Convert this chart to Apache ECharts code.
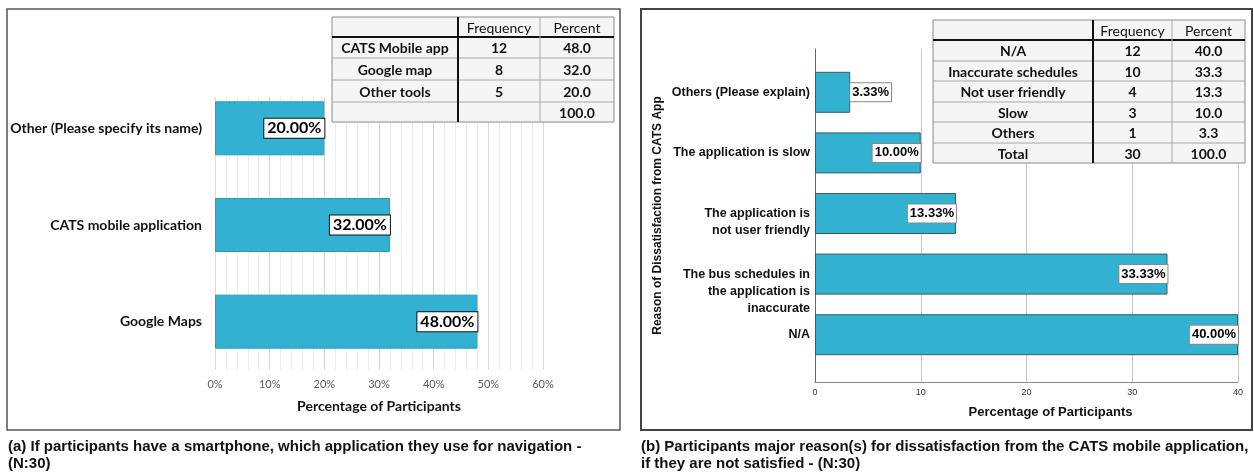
<!DOCTYPE html>
<html><head><meta charset="utf-8">
<script src="https://cdn.jsdelivr.net/npm/echarts@6/dist/echarts.min.js"></script>
<style>html,body{margin:0;padding:0;background:#fff}#c{width:1254px;height:475px}</style>
</head><body><div id="c"></div>
<script>
// ---- Data ----
const leftCategories = ['Other (Please specify its name)', 'CATS mobile application', 'Google Maps'];
const leftValues = [20, 32, 48];
const leftTableHeader = ['', 'Frequency', 'Percent'];
const leftTableRows = [
  ['CATS Mobile app', '12', '48.0'],
  ['Google map', '8', '32.0'],
  ['Other tools', '5', '20.0'],
  ['', '', '100.0']
];
const rightCategories = ['Others (Please explain)', 'The application is slow', 'The application is\nnot user friendly', 'The bus schedules in\nthe application is\ninaccurate', 'N/A'];
const rightValues = [3.33, 10, 13.33, 33.33, 40];
const rightTableHeader = ['', 'Frequency', 'Percent'];
const rightTableRows = [
  ['N/A', '12', '40.0'],
  ['Inaccurate schedules', '10', '33.3'],
  ['Not user friendly', '4', '13.3'],
  ['Slow', '3', '10.0'],
  ['Others', '1', '3.3'],
  ['Total', '30', '100.0']
];
const captionA = ['(a) If participants have a smartphone, which application they use for navigation -', '(N:30)'];
const captionB = ['(b) Participants major reason(s) for dissatisfaction from the CATS mobile application,', 'if they are not satisfied - (N:30)'];
const xTitle = 'Percentage of Participants';
const yTitleRight = 'Reason of Dissatisfaction from CATS App';

// ---- Layout helpers ----
function tableGraphics(header, rows, cols, rowsY) {
  const els = [];
  const x0 = cols[0], x1 = cols[cols.length - 1], y0 = rowsY[0], y1 = rowsY[rowsY.length - 1];
  els.push({type: 'rect', z: 100, shape: {x: x0, y: y0, width: x1 - x0, height: y1 - y0}, style: {fill: '#f5f5f5', stroke: '#8a8a8a', lineWidth: 1}});
  for (let r = 1; r < rowsY.length - 1; r++) {
    els.push({type: 'line', z: 101, shape: {x1: x0, y1: rowsY[r], x2: x1, y2: rowsY[r]}, style: {stroke: r === 1 ? '#111' : '#a8a8a8', lineWidth: r === 1 ? 2 : 1}});
  }
  for (let c = 1; c < cols.length - 1; c++) {
    els.push({type: 'line', z: 101, shape: {x1: cols[c], y1: y0, x2: cols[c], y2: y1}, style: {stroke: c === 1 ? '#111' : '#a8a8a8', lineWidth: c === 1 ? 2 : 1}});
  }
  [header].concat(rows).forEach((row, r) => row.forEach((t, c) => {
    if (!t) return;
    els.push({type: 'text', z: 102, style: {text: t, x: (cols[c] + cols[c + 1]) / 2, y: (rowsY[r] + rowsY[r + 1]) / 2 + 1,
      align: 'center', verticalAlign: 'middle', fontSize: 14, fontFamily: 'Lato', fontWeight: r === 0 ? 'normal' : 'bold', fill: '#111'}});
  }));
  return els;
}
function captionGraphics(lines, x) {
  return lines.map((t, i) => ({type: 'text', z: 102, style: {text: t, x: x, y: 447 + i * 17, align: 'left', verticalAlign: 'middle',
    fontSize: 15, fontFamily: 'Liberation Sans', fontWeight: 'bold', fill: '#111'}}));
}

const chart = echarts.init(document.getElementById('c'));
const pct = p => p.value.toFixed(2) + '%';

const option = {
  backgroundColor: '#fff',
  animation: false,
  grid: [
    {left: 215, right: 711, top: 80, height: 290, outerBoundsMode: 'none', containLabel: false},
    {left: 215, right: 711, top: 97, height: 273, outerBoundsMode: 'none', containLabel: false},
    {left: 815, right: 16, top: 62, height: 303, outerBoundsMode: 'none', containLabel: false},
    {left: 815, right: 16, top: 49, height: 333, outerBoundsMode: 'none', containLabel: false}
  ],
  xAxis: [
    {gridIndex: 0, type: 'value', min: 0, max: 60, show: false},
    {gridIndex: 1, type: 'value', min: 0, max: 60, interval: 10,
      axisLine: {show: false}, axisTick: {show: false},
      axisLabel: {formatter: '{value}%', fontSize: 11, fontFamily: 'Lato', color: '#595959', margin: 9},
      splitLine: {show: true, lineStyle: {color: '#d9d9d9'}},
      minorTick: {show: false, splitNumber: 5},
      minorSplitLine: {show: true, lineStyle: {color: '#ececec'}},
      name: xTitle, nameLocation: 'middle', nameGap: 29,
      nameTextStyle: {fontSize: 14, fontFamily: 'Lato', fontWeight: 'bold', color: '#111'}},
    {gridIndex: 2, type: 'value', min: 0, max: 40, show: false},
    {gridIndex: 3, type: 'value', min: 0, max: 40, interval: 10,
      axisLine: {show: true, lineStyle: {color: '#888', width: 1}}, axisTick: {show: false},
      axisLabel: {fontSize: 9, fontFamily: 'Liberation Sans', color: '#333', margin: 6},
      splitLine: {show: true, lineStyle: {color: '#c8c8c8'}},
      name: xTitle, nameLocation: 'middle', nameGap: 24,
      nameTextStyle: {fontSize: 13, fontFamily: 'Liberation Sans', fontWeight: 'bold', color: '#111', padding: [0, 0, 0, 48]}}
  ],
  yAxis: [
    {gridIndex: 0, type: 'category', data: leftCategories, inverse: true,
      axisLine: {show: false}, axisTick: {show: false},
      axisLabel: {fontSize: 14, fontFamily: 'Lato', fontWeight: 'bold', color: '#111', margin: 13}},
    {gridIndex: 1, type: 'value', show: false},
    {gridIndex: 2, type: 'category', data: rightCategories, inverse: true,
      axisLine: {show: false}, axisTick: {show: false},
      axisLabel: {fontSize: 12.5, fontFamily: 'Liberation Sans', fontWeight: 'bold', color: '#111', margin: 5, lineHeight: 17,
        formatter: v => '\n'.repeat(v.split('\n').length - 1) + v}},
    {gridIndex: 3, type: 'value', min: 0, max: 1,
      axisLine: {show: true, lineStyle: {color: '#666', width: 1}}, axisTick: {show: false},
      axisLabel: {show: false}, splitLine: {show: false},
      name: yTitleRight, nameLocation: 'middle', nameGap: 151,
      nameTextStyle: {fontSize: 12, fontFamily: 'Liberation Sans', fontWeight: 'bold', color: '#111'}}
  ],
  series: [
    {type: 'bar', xAxisIndex: 0, yAxisIndex: 0, data: leftValues, barWidth: 54,
      itemStyle: {color: '#33b1d2', borderColor: '#2b9ab8', borderWidth: 1},
      label: {show: true, position: 'insideRight', distance: 0, formatter: pct,
        backgroundColor: '#fff', borderColor: '#111', borderWidth: 1, padding: [2, 3, 1, 3],
        fontSize: 16, fontFamily: 'Lato', fontWeight: 'bold', color: '#000'}},
    {type: 'bar', xAxisIndex: 2, yAxisIndex: 2, barWidth: 41,
      data: rightValues.map(v => v < 5 ? {value: v, label: {position: 'right'}} : v),
      itemStyle: {color: '#33b1d0', borderColor: '#3a5a66', borderWidth: 1},
      label: {show: true, position: 'insideRight', distance: 0, formatter: pct,
        backgroundColor: '#fff', borderColor: '#888', borderWidth: 1, padding: [3, 2, 2, 2],
        fontSize: 13, fontFamily: 'Liberation Sans', fontWeight: 'bold', color: '#000'}}
  ],
  graphic: [].concat(
    [{type: 'rect', z: 99, shape: {x: 7, y: 9, width: 613, height: 421}, style: {fill: 'none', stroke: '#555', lineWidth: 1.5}},
     {type: 'rect', z: 99, shape: {x: 641, y: 9, width: 611, height: 421}, style: {fill: 'none', stroke: '#444', lineWidth: 2}}],
    tableGraphics(leftTableHeader, leftTableRows, [332, 458, 540, 614], [17, 37, 58, 80, 102, 122]),
    tableGraphics(rightTableHeader, rightTableRows, [933, 1093, 1172, 1245], [20, 40, 61, 81, 102, 122, 143, 163]),
    captionGraphics(captionA, 8),
    captionGraphics(captionB, 641)
  )
};
chart.setOption(option);
</script>
</body></html>
